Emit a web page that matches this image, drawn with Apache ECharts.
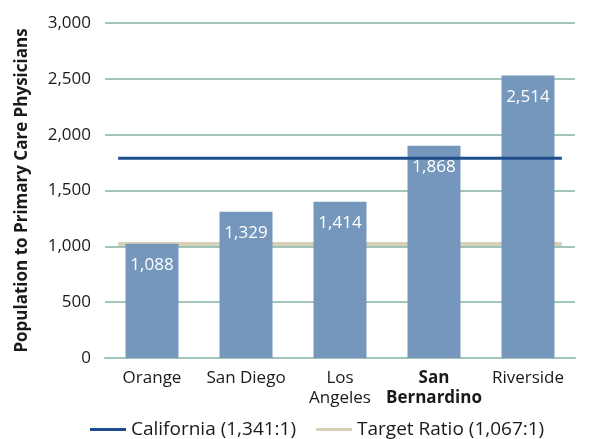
<!DOCTYPE html>
<html>
<head>
<meta charset="utf-8">
<script src="https://cdn.jsdelivr.net/npm/echarts@6/dist/echarts.min.js"></script>
<style>
  html, body { margin: 0; padding: 0; background: #fff; }
  #chart { width: 590px; height: 439px; }
</style>
</head>
<body>
<div id="chart"></div>
<script>
// counties, bar heights as drawn, and the printed labels
const categories = ['Orange', 'San Diego', 'Los\nAngeles', 'San\nBernardino', 'Riverside']
const barValues = [1023, 1310, 1400, 1900, 2530]
const barLabels = ['1,088', '1,329', '1,414', '1,868', '2,514']

// reference lines (value as drawn), spanning slightly past the outer bars
const californiaLevel = 1789
const targetLevel = 1020
const lineSpan = [-0.36, 4.36]

const yTicks = { min: 0, max: 3000, interval: 500 }

const FONT = 'Open Sans'
const BAR_COLOR = '#7597bc'
const GRID_COLOR = '#a3c5b9'

const chart = echarts.init(document.getElementById('chart'))

const option = {
  animation: false,
  textStyle: { fontFamily: FONT },
  grid: { left: 105, right: 15, top: 23, bottom: 81 },
  legend: {
    left: 90,
    top: 420,
    padding: 0,
    itemWidth: 36,
    itemHeight: 3,
    itemGap: 20,
    icon: 'rect',
    textStyle: { fontFamily: FONT, fontSize: 19, color: '#1a1a1a' },
    data: ['California (1,341:1)', 'Target Ratio (1,067:1)']
  },
  xAxis: [
    {
      type: 'category',
      data: categories,
      axisTick: { show: false },
      axisLine: { lineStyle: { color: GRID_COLOR, width: 2 } },
      axisLabel: {
        fontFamily: FONT,
        fontSize: 17,
        color: '#1a1a1a',
        margin: 10,
        lineHeight: 20,
        interval: 0,
        formatter: (v) => v === 'San\nBernardino' ? '{b|San}\n{b|Bernardino}' : v,
        rich: { b: { fontWeight: 'bold', fontSize: 17, fontFamily: FONT, color: '#1a1a1a', lineHeight: 20 } }
      }
    },
    { type: 'value', min: -0.5, max: 4.5, show: false }
  ],
  yAxis: {
    type: 'value',
    min: yTicks.min,
    max: yTicks.max,
    interval: yTicks.interval,
    name: 'Population to Primary Care Physicians',
    nameLocation: 'middle',
    nameGap: 74,
    nameTextStyle: { fontFamily: FONT, fontSize: 17, fontWeight: 'bold', color: '#1a1a1a' },
    axisLine: { show: false },
    axisTick: { show: false },
    axisLabel: {
      fontFamily: FONT,
      fontSize: 17,
      color: '#1a1a1a',
      margin: 14,
      formatter: (v) => v.toLocaleString('en-US')
    },
    splitLine: { lineStyle: { color: GRID_COLOR, width: 2 } }
  },
  series: [
    {
      name: 'Target Ratio (1,067:1)',
      type: 'line',
      xAxisIndex: 1,
      z: 1,
      symbol: 'none',
      color: '#d8d1b9',
      lineStyle: { width: 4, color: '#d8d1b9' },
      data: lineSpan.map(x => [x, targetLevel])
    },
    {
      name: 'bars',
      type: 'bar',
      z: 2,
      barWidth: 53,
      itemStyle: { color: BAR_COLOR },
      label: {
        show: true,
        position: 'insideTop',
        distance: 13,
        color: '#fff',
        fontFamily: FONT,
        fontSize: 17,
        formatter: (p) => barLabels[p.dataIndex]
      },
      data: barValues
    },
    {
      name: 'California (1,341:1)',
      type: 'line',
      xAxisIndex: 1,
      z: 3,
      symbol: 'none',
      color: '#1f4e8c',
      lineStyle: { width: 3, color: '#1f4e8c' },
      data: lineSpan.map(x => [x, californiaLevel])
    }
  ]
}

chart.setOption(option)
</script>
</body>
</html>
